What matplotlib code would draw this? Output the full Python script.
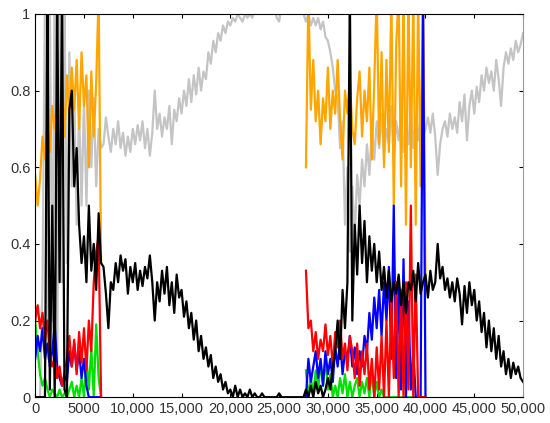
import numpy as np
import matplotlib
matplotlib.use("Agg")
import matplotlib.pyplot as plt
from matplotlib.ticker import FuncFormatter

plt.rcParams['font.family'] = ['Liberation Sans', 'DejaVu Sans']

# sample grid (step 250)
x_full = np.arange(0, 50001, 250)
x_a = np.arange(0, 6751, 250)
x_b = np.arange(27750, 40001, 250)

gray = [
    0, 0, 0, 0.3, 1.05, 0.1, 1.05, 0.2, 1.05, 0.05, 1.05, 0.3, 1.05, 0.35, 0.9, 0.55, 0.8, 0.45, 0.75, 0.5,
    0.78, 0.5, 0.8, 0.6, 0.78, 0.55, 0.7, 0.65, 0.66, 0.73, 0.68, 0.64, 0.7, 0.66, 0.72, 0.65, 0.69, 0.63, 0.68, 0.64,
    0.7, 0.66, 0.71, 0.67, 0.72, 0.65, 0.7, 0.63, 0.69, 0.8, 0.7, 0.74, 0.68, 0.73, 0.7, 0.76, 0.66, 0.75, 0.72, 0.78,
    0.74, 0.8, 0.76, 0.83, 0.77, 0.84, 0.79, 0.86, 0.8, 0.85, 0.83, 0.9, 0.87, 0.93, 0.9, 0.95, 0.93, 0.97, 0.95, 0.98,
    0.97, 0.99, 0.98, 1.0, 0.99, 0.98, 1.0, 0.99, 1.0, 0.99, 1.01, 1.0, 1.02, 1.0, 1.02, 1.01, 1.02, 1.01, 1.02, 0.99,
    0.98, 1.02, 1.02, 1.02, 1.02, 1.02, 1.02, 1.02, 1.02, 1.01, 1.0, 0.98, 1.0, 0.97, 0.99, 0.97, 0.99, 0.96, 0.98, 0.94,
    0.93, 0.9, 0.86, 0.8, 0.78, 0.65, 0.72, 0.45, 0.6, 0.38, 0.55, 0.42, 0.58, 0.5, 0.62, 0.55, 0.66, 0.58, 0.7, 0.62,
    0.72, 0.65, 0.74, 0.63, 0.7, 0.66, 0.76, 0.62, 0.72, 0.67, 0.74, 0.64, 0.71, 0.66, 0.75, 0.65, 0.73, 0.67, 0.74, 0.68,
    0.7, 0.73, 0.69, 0.74, 0.68, 0.58, 0.66, 0.7, 0.72, 0.68, 0.74, 0.7, 0.73, 0.69, 0.77, 0.72, 0.79, 0.67, 0.76, 0.8,
    0.74, 0.81, 0.77, 0.84, 0.8, 0.86, 0.82, 0.85, 0.8, 0.88, 0.83, 0.76, 0.86, 0.9, 0.87, 0.91, 0.88, 0.93, 0.9, 0.92,
    0.95,
]

black = [
    0, 0, 0, 0, 0, 1.05, 0.02, 0.5, 0.0, 1.05, 0.3, 1.05, 0.02, 0.0, 0.75, 0.8, 0.55, 0.65, 0.45, 0.35,
    0.42, 0.3, 0.5, 0.33, 0.4, 0.28, 0.48, 0.35, 0.34, 0.27, 0.18, 0.3, 0.28, 0.35, 0.3, 0.37, 0.33, 0.36, 0.27, 0.34,
    0.3, 0.35, 0.28, 0.33, 0.29, 0.34, 0.31, 0.37, 0.3, 0.2, 0.3, 0.25, 0.33, 0.27, 0.34, 0.24, 0.3, 0.22, 0.32, 0.26,
    0.28, 0.21, 0.25, 0.18, 0.22, 0.15, 0.2, 0.12, 0.16, 0.1, 0.13, 0.08, 0.11, 0.05, 0.08, 0.04, 0.06, 0.02, 0.04, 0.01,
    0.02, 0.0, 0.03, 0.0, 0.02, 0.0, 0.01, 0.0, 0.02, 0.0, 0.01, 0.0, 0.0, 0.01, 0.0, 0.0, 0.0, 0.0, 0.0, 0.0,
    0.01, 0.0, 0.0, 0.0, 0.0, 0.0, 0.0, 0.0, 0.0, 0.0, 0.0, 0.02, 0.0, 0.03, 0.0, 0.04, 0.01, 0.03, 0.0, 0.02,
    0.05, 0.02, 0.08, 0.12, 0.2, 0.1, 0.28, 0.18, 0.3, 1.05, 0.2, 0.45, 0.32, 0.5, 0.35, 0.46, 0.3, 0.42, 0.33, 0.4,
    0.3, 0.38, 0.28, 0.34, 0.26, 0.33, 0.25, 0.3, 0.27, 0.32, 0.24, 0.3, 0.22, 0.3, 0.28, 0.33, 0.25, 0.35, 0.27, 0.3,
    0.32, 0.26, 0.33, 0.28, 0.3, 0.4, 0.31, 0.34, 0.28, 0.31, 0.26, 0.3, 0.25, 0.31, 0.27, 0.19, 0.29, 0.22, 0.3, 0.24,
    0.28, 0.2, 0.25, 0.17, 0.22, 0.13, 0.2, 0.12, 0.18, 0.1, 0.16, 0.08, 0.12, 0.06, 0.1, 0.05, 0.09, 0.06, 0.08, 0.05,
    0.04,
]

orange_a = [0.58, 0.5, 0.57, 0.68, 0.62, 0.72, 0.64, 0.76, 0.7, 0.78, 0.72, 0.82, 0.68, 0.84,
            0.74, 0.86, 0.75, 0.88, 0.7, 0.9, 0.76, 0.84, 0.6, 0.85, 0.68, 0.82, 1.05, 0.35]
red_a = [0.2, 0.24, 0.18, 0.22, 0.15, 0.2, 0.12, 0.08, 0.1, 0.05, 0.08, 0.03, 0.06, 0.1,
         0.16, 0.08, 0.15, 0.06, 0.17, 0.09, 0.18, 0.07, 0.2, 0.12, 0.3, 0.38, 0.42, 0.0]
blue_a = [0.1, 0.16, 0.12, 0.18, 0.1, 0.14, 0.08, 0.12, 0.19, 0.08, 0.05, 0.03, 0.06, 0.04,
          0.12, 0.08, 0.14, 0.07, 0.12, 0.05, 0.1, 0.03, 0.0, 0.0, 0.0, 0.0, 0.0, 0.0]
green_a = [0.2, 0.12, 0.06, 0.03, 0.05, 0.02, 0.0, 0.02, 0.01, 0.0, 0.02, 0.0, 0.01, 0.0,
           0.02, 0.04, 0.0, 0.03, 0.0, 0.05, 0.0, 0.1, 0.02, 0.13, 0.0, 0.19, 0.05, 0.0]

orange_b = [0.6, 1.05, 0.75, 0.88, 0.72, 0.8, 0.66, 0.78, 0.72, 0.86, 0.7, 0.8, 0.74, 0.88, 0.72, 0.62, 0.8,
            0.74, 0.83, 0.7, 0.66, 0.78, 0.85, 0.68, 0.8, 0.72, 0.86, 0.62, 0.82, 1.05, 0.66, 0.9, 0.6,
            0.88, 0.64, 1.05, 0.5, 0.92, 1.05, 0.55, 1.05, 0.45, 1.05, 0.6, 1.05, 0.45, 1.05, 0.55, 1.05, 0.32]
red_b = [0.33, 0.18, 0.2, 0.12, 0.17, 0.1, 0.15, 0.12, 0.19, 0.11, 0.16, 0.08, 0.17, 0.13, 0.2, 0.1, 0.14,
         0.07, 0.16, 0.12, 0.05, 0.14, 0.03, 0.12, 0.06, 0.14, 0.02, 0.1, 0.0, 0.13, 0.02, 0.16, 0.0,
         0.2, 0.0, 0.26, 0.05, 0.3, 0.0, 0.28, 0.0, 0.3, 0.02, 0.5, 0.0, 0.32, 0.0, 0.0, 0.0, 0.0]
blue_b = [0.0, 0.1, 0.04, 0.08, 0.12, 0.05, 0.1, 0.03, 0.12, 0.06, 0.1, 0.04, 0.13, 0.08, 0.15, 0.06, 0.12,
          0.1, 0.16, 0.08, 0.13, 0.06, 0.12, 0.08, 0.16, 0.12, 0.22, 0.15, 0.26, 0.18, 0.28, 0.16, 0.3,
          0.2, 0.34, 0.1, 0.5, 0.05, 0.3, 0.02, 0.36, 0.0, 0.25, 0.02, 0.12, 0.0, 0.0, 0.0, 1.05, 0.0]
green_b = [0.07, 0.0, 0.05, 0.01, 0.07, 0.02, 0.09, 0.03, 0.1, 0.02, 0.06, 0.0, 0.03, 0.0, 0.05, 0.01, 0.06,
           0.0, 0.04, 0.0, 0.03, 0.05, 0.0, 0.04, 0.01, 0.05, 0.0, 0.07, 0.0, 0.04, 0.0, 0.02, 0.0,
           0, 0, 0, 0, 0, 0, 0, 0, 0, 0, 0, 0, 0, 0, 0, 0, 0]

fig = plt.figure(figsize=(5.5, 4.23), dpi=100)
ax = fig.add_axes([0.064, 0.061, 0.887, 0.906])

lw = 1.6
ax.plot(x_full, gray, color='#c4c4c4', lw=lw)
ax.plot(x_a, orange_a, color='#ffa500', lw=lw)
ax.plot(x_b, orange_b, color='#ffa500', lw=lw)
ax.plot(x_a, green_a, color='#00e000', lw=lw)
ax.plot(x_b, green_b, color='#00e000', lw=lw)
ax.plot(x_a, blue_a, color='#0000ff', lw=lw)
ax.plot(x_b, blue_b, color='#0000ff', lw=lw)
ax.plot(x_a, red_a, color='#ff0000', lw=lw)
ax.plot(x_b, red_b, color='#ff0000', lw=lw)
ax.plot(x_full, black, color='black', lw=lw)

ax.set_xlim(0, 50000)
ax.set_ylim(0, 1)
ax.set_xticks(np.arange(0, 50001, 5000))
ax.set_yticks([0, 0.2, 0.4, 0.6, 0.8, 1])
ax.xaxis.set_major_formatter(FuncFormatter(lambda v, p: f"{int(v):,}" if v >= 10000 else f"{int(v)}"))
ax.yaxis.set_major_formatter(FuncFormatter(lambda v, p: f"{v:g}"))
ax.tick_params(direction='in', top=True, right=True, length=3, labelsize=10.5, colors='#333333')
ax.tick_params(axis='both', colors='black', labelcolor='#333333')
for s in ['left', 'bottom', 'top']:
    ax.spines[s].set_color('black')
ax.spines['right'].set_color('#999999')

fig.savefig('out.png', dpi=100)
